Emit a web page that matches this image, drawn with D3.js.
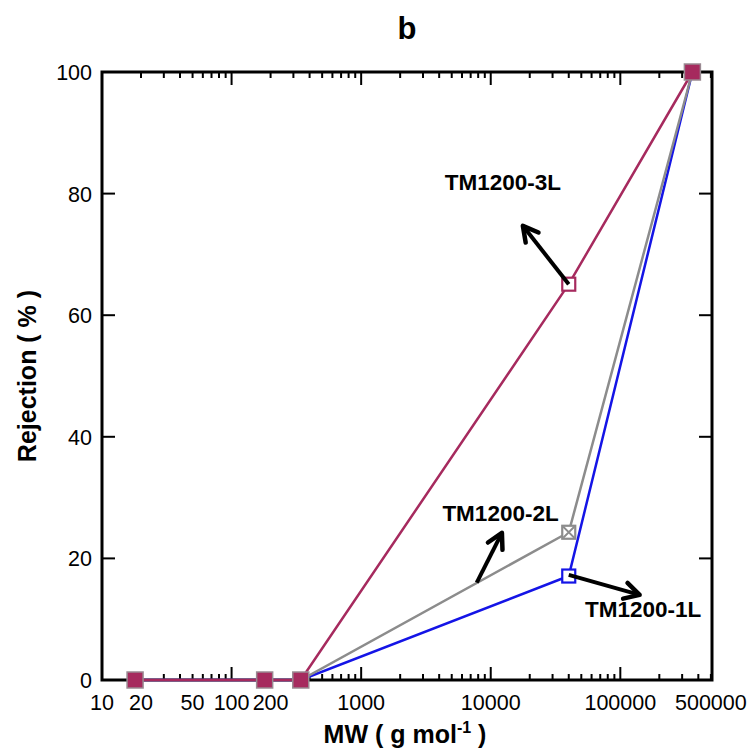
<!DOCTYPE html>
<html>
<head>
<meta charset="utf-8">
<script src="https://cdn.jsdelivr.net/npm/d3@7"></script>
<style>
    body { margin: 0; background: #fff; }
    svg { display: block; font-family: "Liberation Sans", Arial, sans-serif; }
</style>
</head>
<body>
<svg width="752" height="749"></svg>
<script>
// molecular weights (g/mol) of the probe solutes
const mw = [18, 180, 342, 40000, 360000];

// rejection (%) per membrane
const rej1L = [0, 0, 0, 17.1, 100];
const rej2L = [0, 0, 0, 24.3, 100];
const rej3L = [0, 0, 0, 65.1, 100];

const seriesNames = ["TM1200-1L", "TM1200-2L", "TM1200-3L"];
const seriesColors = ["#1414e6", "#8c8c8c", "#a62a5e"];

const xTickValues = [10, 20, 50, 100, 200, 1000, 10000, 100000, 500000];
const yTickValues = [0, 20, 40, 60, 80, 100];

// annotation arrows in data units: [x0, y0] -> [x1, y1], and label anchors [x, y]
const arrowFrom = [[40000, 17.3], [7800, 16], [40000, 65.1]];
const arrowTo = [[141000, 14], [12200, 24.2], [17700, 74.7]];
const labelAt = [[150000, 10.4], [11900, 26.2], [12400, 80.6]];

const svg = d3.select("svg"),
    margin = {top: 72, right: 40, bottom: 69, left: 102},
    width = +svg.attr("width"),
    height = +svg.attr("height");

const x = d3.scaleLog()
    .domain([10, 510000])
    .range([margin.left, width - margin.right]);

const y = d3.scaleLinear()
    .domain([0, 100])
    .range([height - margin.bottom, margin.top]);

const x0 = x.range()[0], x1 = x.range()[1],
    y0 = y.range()[0], y1 = y.range()[1];

// minor / major log ticks
const majorTicks = [100, 1000, 10000, 100000];
const minorTicks = [];
for (let dec = 10; dec <= 100000; dec *= 10) {
    for (let k = 2; k <= 9; k++) {
        const v = k * dec;
        if (v < 510000) minorTicks.push(v);
    }
}

const ticks = svg.append("g").attr("class", "ticks")
    .attr("stroke", "#000").attr("stroke-width", 2);

// bottom + top x ticks, pointing inward
[[y0, -1], [y1, 1]].forEach(([yy, dir]) => {
    ticks.selectAll(null).data(minorTicks).enter().append("line")
        .attr("x1", d => x(d)).attr("x2", d => x(d))
        .attr("y1", yy).attr("y2", yy + dir * 6);
    ticks.selectAll(null).data(majorTicks).enter().append("line")
        .attr("x1", d => x(d)).attr("x2", d => x(d))
        .attr("y1", yy).attr("y2", yy + dir * 13);
});

// left + right y ticks
[[x0, 1], [x1, -1]].forEach(([xx, dir]) => {
    ticks.selectAll(null).data(yTickValues.slice(1, -1)).enter().append("line")
        .attr("y1", d => y(d)).attr("y2", d => y(d))
        .attr("x1", xx).attr("x2", xx + dir * 13);
});

// frame
svg.append("rect")
    .attr("x", x0).attr("y", y1)
    .attr("width", x1 - x0).attr("height", y0 - y1)
    .attr("fill", "none").attr("stroke", "#000").attr("stroke-width", 3);

// tick labels
svg.append("g")
    .selectAll("text")
    .data(xTickValues)
    .enter().append("text")
    .attr("x", d => x(d))
    .attr("y", y0 + 30)
    .attr("text-anchor", "middle")
    .attr("font-size", 21.5)
    .text(d => d);

svg.append("g")
    .selectAll("text")
    .data(yTickValues)
    .enter().append("text")
    .attr("x", x0 - 10)
    .attr("y", d => y(d) + 8)
    .attr("text-anchor", "end")
    .attr("font-size", 21.5)
    .text(d => d);

// lines
const series = [rej1L, rej2L, rej3L].map((vals, i) => ({
    name: seriesNames[i],
    color: seriesColors[i],
    points: mw.map((m, j) => ({mw: m, r: vals[j]}))
}));

const line = d3.line()
    .x(d => x(d.mw))
    .y(d => y(d.r));

svg.append("g")
    .selectAll("path")
    .data(series)
    .enter().append("path")
    .attr("d", d => line(d.points))
    .attr("fill", "none")
    .attr("stroke", d => d.color)
    .attr("stroke-width", 2.5);

// markers
const s = 13;
const shared = mw.map((m, j) => rej1L[j] === rej2L[j] && rej2L[j] === rej3L[j]);

series.forEach((ser, i) => {
    const g = svg.append("g").attr("class", "markers-" + i);
    const pts = ser.points.filter((p, j) => !shared[j]);
    g.selectAll("rect").data(pts).enter().append("rect")
        .attr("x", d => x(d.mw) - s / 2)
        .attr("y", d => y(d.r) - s / 2)
        .attr("width", s).attr("height", s)
        .attr("fill", "#fff")
        .attr("stroke", ser.color)
        .attr("stroke-width", 2.2);
    if (i === 1) {
        g.selectAll("path").data(pts).enter().append("path")
            .attr("d", d => {
                const cx = x(d.mw), cy = y(d.r), h = s / 2 - 1;
                return `M${cx - h},${cy - h}L${cx + h},${cy + h}M${cx - h},${cy + h}L${cx + h},${cy - h}`;
            })
            .attr("stroke", ser.color)
            .attr("stroke-width", 1.8);
    }
});

// points where all membranes coincide: one filled marker
svg.append("g")
    .selectAll("rect")
    .data(mw.map((m, j) => ({mw: m, r: rej3L[j]})).filter((d, j) => shared[j]))
    .enter().append("rect")
    .attr("x", d => x(d.mw) - 8)
    .attr("y", d => y(d.r) - 8)
    .attr("width", 16).attr("height", 16)
    .attr("fill", seriesColors[2])
    .attr("stroke", "#9a8a92")
    .attr("stroke-width", 1.5);

// annotations
const ann = svg.append("g").attr("class", "annotations");

arrowFrom.forEach((p, i) => {
    const ax0 = x(p[0]), ay0 = y(p[1]),
        ax1 = x(arrowTo[i][0]), ay1 = y(arrowTo[i][1]);
    const ang = Math.atan2(ay1 - ay0, ax1 - ax0), hl = 17, hw = 0.5;
    ann.append("line")
        .attr("x1", ax0).attr("y1", ay0)
        .attr("x2", ax1).attr("y2", ay1)
        .attr("stroke", "#000").attr("stroke-width", 4);
    ann.append("path")
        .attr("d", `M${ax1 - hl * Math.cos(ang - hw)},${ay1 - hl * Math.sin(ang - hw)}L${ax1},${ay1}L${ax1 - hl * Math.cos(ang + hw)},${ay1 - hl * Math.sin(ang + hw)}`)
        .attr("fill", "none")
        .attr("stroke", "#000").attr("stroke-width", 4.5)
        .attr("stroke-linecap", "round").attr("stroke-linejoin", "round");
    ann.append("text")
        .attr("x", x(labelAt[i][0]))
        .attr("y", y(labelAt[i][1]))
        .attr("text-anchor", "middle")
        .attr("font-size", 22.5)
        .attr("font-weight", "bold")
        .text(seriesNames[i]);
});

// titles
svg.append("text")
    .attr("x", 407).attr("y", 39)
    .attr("text-anchor", "middle")
    .attr("font-size", 31).attr("font-weight", "bold")
    .text("b");

const xt = svg.append("text")
    .attr("x", 405).attr("y", 743)
    .attr("text-anchor", "middle")
    .attr("font-size", 25).attr("font-weight", "bold");
xt.append("tspan").text("MW ( g mol");
xt.append("tspan").attr("font-size", 16).attr("dy", -10).text("-1");
xt.append("tspan").attr("dy", 10).text(" )");

svg.append("text")
    .attr("transform", `translate(36,${(y0 + y1) / 2}) rotate(-90)`)
    .attr("text-anchor", "middle")
    .attr("font-size", 25).attr("font-weight", "bold")
    .text("Rejection ( % )");
</script>
</body>
</html>
